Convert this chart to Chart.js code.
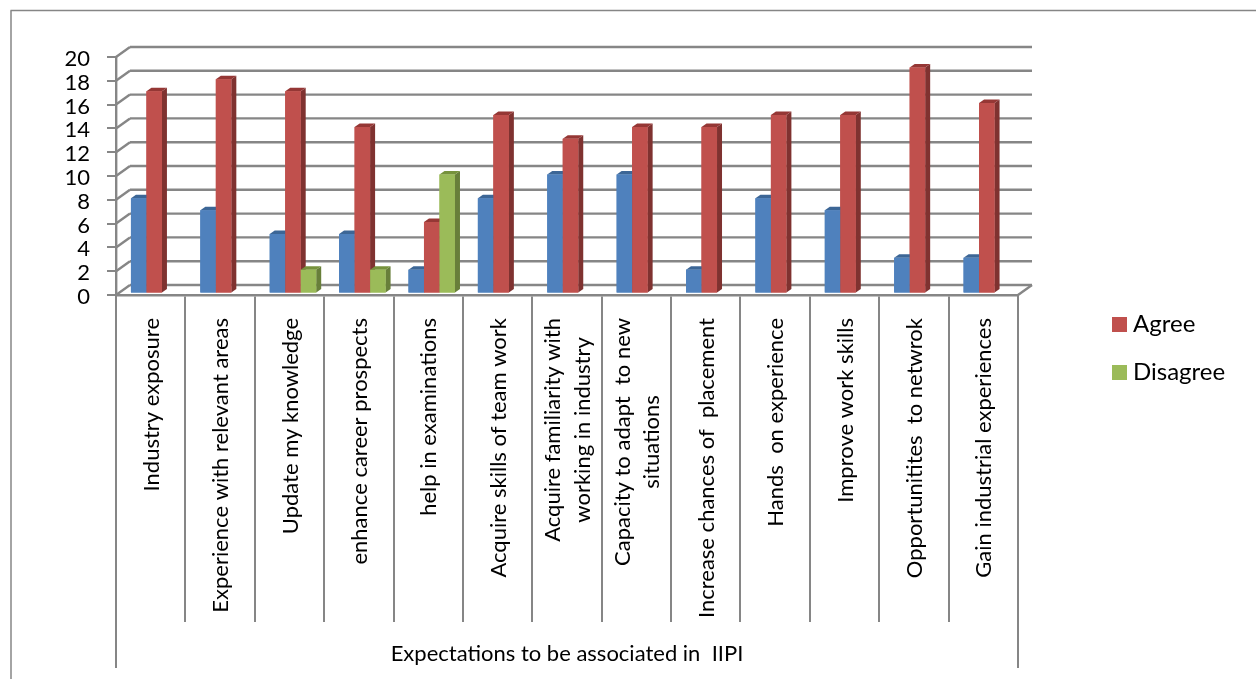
<!DOCTYPE html>
<html><head><meta charset="utf-8">
<style>html,body{margin:0;padding:0;background:#fff}#w{width:1256px;height:679px;position:relative}</style>
<script src="https://cdn.jsdelivr.net/npm/chart.js@4"></script></head>
<body><div id="w"><canvas id="c" width="1256" height="679"></canvas></div>
<script>
const categories = ["Industry exposure","Experience with relevant areas","Update my knowledge","enhance career prospects","help in examinations","Acquire skills of team work",["Acquire familiarity with","working in industry"],["Capacity to adapt  to new","situations"],"Increase chances of  placement","Hands  on experience","Improve work skills","Opportunitites  to netwrok","Gain industrial experiences"];
const blank = [8,7,5,5,2,8,10,10,2,8,7,3,3];
const agree = [17,18,17,14,6,15,13,14,14,15,15,19,16];
const disagree = [null,null,2,2,10,null,null,null,null,null,null,null,null];
const yTicks = [0,2,4,6,8,10,12,14,16,18,20];
const axisTitle = "Expectations to be associated in  IIPI";
const GRID = "#868686";
const shades = [{side:"#385d8a",top:"#3c6696"},{side:"#7f3230",top:"#953735"},{side:"#687f3a",top:"#76923c"}];
const DEPTH_X = 14, DEPTH_Y = 10;

function poly(ctx, pts, fill){ctx.beginPath();pts.forEach((p,i)=>i?ctx.lineTo(p[0],p[1]):ctx.moveTo(p[0],p[1]));ctx.closePath();ctx.fillStyle=fill;ctx.fill();}
function line(ctx,x0,y0,x1,y1,w){ctx.beginPath();ctx.moveTo(x0,y0);ctx.lineTo(x1,y1);ctx.lineWidth=w||2.4;ctx.strokeStyle=GRID;ctx.stroke();}

const chart3d = {
  id:"chart3d",
  afterLayout(chart){
    const x = chart.scales.x;
    x.getLabelItems().forEach(it=>{
      const o = it.options, lines = Array.isArray(it.label)?it.label:[it.label];
      const c = chart.ctx; c.save(); c.font = it.font.string;
      const mw = Math.max(...lines.map(t=>c.measureText(t).width)); c.restore();
      o.textAlign = "center"; o.textBaseline = "middle";
      o.translation = [o.translation[0] + 1, 318 + mw/2];
      it.textOffset = it.font.lineHeight/2 - (lines.length-1)/2*it.font.lineHeight;
    });
    chart.scales.y.getLabelItems().forEach(it=>{ it.options.translation[1] += 2; });
  },
  beforeDraw(chart){
    const c = chart.ctx; c.save();
    line(c,11,679,11,10.5,1.5); line(c,10.5,10.5,1256,10.5,1.5);
    c.restore();
  },
  beforeDatasetsDraw(chart){
    const {ctx:c,scales:{y},chartArea:a} = chart;
    c.save();
    yTicks.forEach(v=>{
      const p = y.getPixelForValue(v);
      line(c,a.left,p,a.left+DEPTH_X,p-DEPTH_Y);
      line(c,a.left+DEPTH_X,p-DEPTH_Y,a.right+DEPTH_X,p-DEPTH_Y);
    });
    line(c,a.right,a.bottom,a.right+DEPTH_X,a.bottom-DEPTH_Y);
    line(c,a.left,a.bottom,a.left,668,2); line(c,a.right,a.bottom,a.right,668,2);
    c.restore();
    c.save(); c.translate(3.5,-1.5);
  },
  afterDatasetsDraw(chart){
    const c = chart.ctx;
    chart.data.datasets.forEach((d,i)=>{
      chart.getDatasetMeta(i).data.forEach((el,j)=>{
        if(d.data[j]==null) return;
        const p = el.getProps(["x","y","base","width"],true);
        const L=p.x-p.width/2,R=p.x+p.width/2,T=p.y,B=p.base;
        poly(c,[[R,T],[R+5,T-3.5],[R+5,B-3.5],[R,B]],shades[i].side);
        poly(c,[[L,T],[L+5,T-3.5],[R+5,T-3.5],[R,T]],shades[i].top);
        el.draw(c);
      });
    });
    c.restore();
  },
  afterDraw(chart){
    const c = chart.ctx; c.save();
    c.font = "24px Lato"; c.textAlign="left"; c.textBaseline="middle";
    chart.data.datasets.filter(d=>d.label).forEach((d,i)=>{
      const cy = 324.5 + i*48;
      c.fillStyle = d.backgroundColor; c.fillRect(1112,cy-7.5,15,15);
      c.fillStyle = "#000"; c.fillText(d.label,1133,cy);
    });
    c.restore();
  }
};

new Chart(document.getElementById("c"),{
  type:"bar",
  data:{labels:categories,datasets:[
    {label:"",data:blank,backgroundColor:"#4f81bd"},
    {label:"Agree",data:agree,backgroundColor:"#c0504d"},
    {label:"Disagree",data:disagree,backgroundColor:"#9bbb59"}
  ]},
  plugins:[chart3d],
  options:{
    responsive:false,animation:false,
    layout:{padding:{top:57,right:238,left:0,bottom:0}},
    datasets:{bar:{categoryPercentage:0.67,barPercentage:1,borderWidth:0}},
    plugins:{legend:{display:false},tooltip:{enabled:false}},
    scales:{
      y:{min:0,max:20,
        afterBuildTicks(s){s.ticks=yTicks.map(value=>({value}));},
        afterFit(s){s.width=116;},
        ticks:{color:"#000",font:{family:"Lato",size:22},padding:17,autoSkip:false},
        grid:{drawOnChartArea:false,drawTicks:true,tickLength:9,color:GRID,lineWidth:2},
        border:{display:true,color:GRID,width:2.4}
      },
      x:{
        afterFit(s){s.height=679-295;},
        ticks:{color:"#000",font:{family:"Lato",size:22,lineHeight:1.36},maxRotation:90,minRotation:90,autoSkip:false,padding:8},
        grid:{drawOnChartArea:false,drawTicks:true,tickLength:327,offset:true,color:GRID,lineWidth:2},
        border:{display:true,color:GRID,width:2.4},
        title:{display:true,text:axisTitle,color:"#000",font:{family:"Lato",size:22},padding:{top:0,bottom:12}}
      }
    }
  }
});
</script></body></html>
